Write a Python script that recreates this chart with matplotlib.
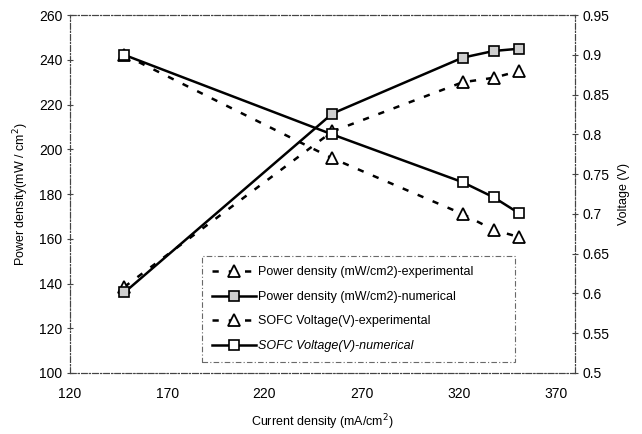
import matplotlib
matplotlib.use("Agg")
import matplotlib.pyplot as plt

plt.rcParams['font.family'] = ['Liberation Sans', 'DejaVu Sans']

# current density (mA/cm2)
current = [148, 255, 322, 338, 351]
# power density (mW/cm2)
power_exp = [138.5, 208, 230, 232, 235]
power_num = [136, 216, 241, 244, 245]
# SOFC voltage (V)
volt_exp = [0.90, 0.77, 0.70, 0.68, 0.671]
volt_num = [0.90, 0.80, 0.74, 0.721, 0.701]

x_ticks = [120, 170, 220, 270, 320, 370]
left_ticks = [100, 120, 140, 160, 180, 200, 220, 240, 260]
right_ticks = [0.5, 0.55, 0.6, 0.65, 0.7, 0.75, 0.8, 0.85, 0.9, 0.95]
right_labels = ['0.5', '0.55', '0.6', '0.65', '0.7', '0.75', '0.8', '0.85', '0.9', '0.95']

fig = plt.figure(figsize=(6.42, 4.34), dpi=100)
ax = fig.add_axes([0.109, 0.1406, 0.787, 0.8244])
ax2 = ax.twinx()

dash = (0, (2.5, 4))
l1, = ax.plot(current, power_exp, color='black', lw=1.8, ls=dash, marker='^',
              ms=8, mfc='white', mec='black', mew=1.3,
              label='Power density (mW/cm2)-experimental')
l2, = ax.plot(current, power_num, color='black', lw=1.8, marker='s',
              ms=7, mfc='#cfcfcf', mec='black', mew=1.2,
              label='Power density (mW/cm2)-numerical')
l3, = ax2.plot(current, volt_exp, color='black', lw=1.8, ls=dash, marker='^',
               ms=8, mfc='white', mec='black', mew=1.3,
               label='SOFC Voltage(V)-experimental')
l4, = ax2.plot(current, volt_num, color='black', lw=1.8, marker='s',
               ms=7, mfc='white', mec='black', mew=1.2,
               label='SOFC Voltage(V)-numerical')

ax.set_xlim(120, 380)
ax.set_ylim(100, 260)
ax2.set_ylim(0.5, 0.95)
ax.set_xticks(x_ticks)
ax.set_yticks(left_ticks)
ax2.set_yticks(right_ticks)
ax2.set_yticklabels(right_labels)

for a in (ax, ax2):
    for s in a.spines.values():
        s.set_linestyle((0, (5, 2, 1, 2)))
        s.set_linewidth(0.8)
        s.set_color('#444444')
    a.tick_params(labelsize=10, length=4, width=0.8, direction='inout', color='#444444')
ax.tick_params(axis='x', length=0, pad=10)

ax.set_xlabel('Current density (mA/cm$^2$)', fontsize=9, labelpad=8)
ax.set_ylabel('Power density(mW / cm$^2$)', fontsize=9, labelpad=6)
ax2.set_ylabel('Voltage (V)', fontsize=9, labelpad=6)

leg = ax2.legend(handles=[l1, l2, l3, l4], loc='lower left',
                 bbox_to_anchor=(0.261, 0.031, 0.62, 0.307), mode='expand',
                 fontsize=9, frameon=True, fancybox=False, handlelength=3.5,
                 labelspacing=1.0, borderpad=0.8, handletextpad=0.2, borderaxespad=0)
leg.get_texts()[3].set_style('italic')
fr = leg.get_frame()
fr.set_edgecolor('#444444')
fr.set_linestyle((0, (5, 2, 1, 2)))
fr.set_linewidth(0.8)

fig.savefig('out.png', dpi=100)
